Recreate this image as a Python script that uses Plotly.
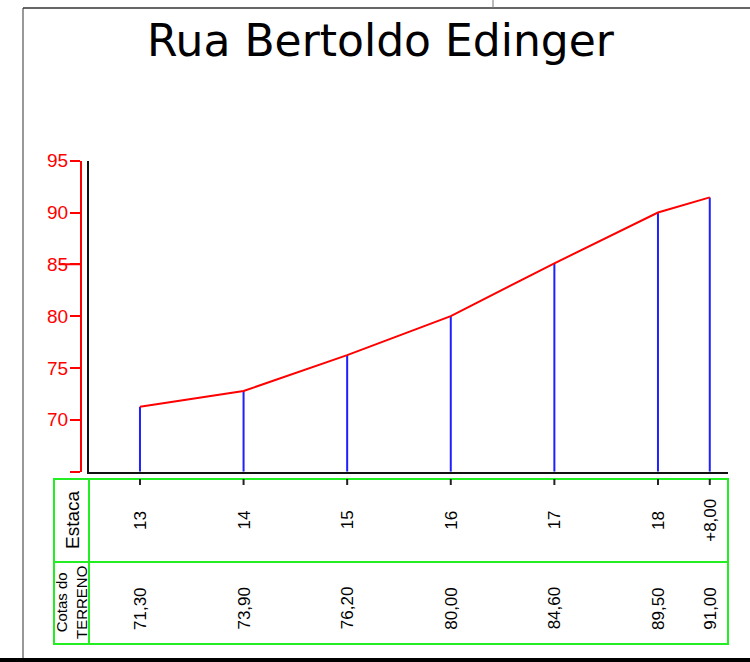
import plotly.graph_objects as go

# ---- data ----
title_text = "Rua Bertoldo Edinger"
stations = [13, 14, 15, 16, 17, 18, 18.5]
station_labels = ["13", "14", "15", "16", "17", "18", "+8,00"]
elev_plot = [71.27, 72.78, 76.25, 80.0, 85.1, 90.0, 91.46]
cota_labels = ["71,30", "73,90", "76,20", "80,00", "84,60", "89,50", "91,00"]
y_ticks = [65, 70, 75, 80, 85, 90, 95]
y_tick_labels = ["", "70", "75", "80", "85", "90", "95"]
row_headers = ["Estaca", "Cotas do<br>TERRENO"]

W, H = 750, 662
def px(x): return x / W
def py(y): return 1 - y / H

fig = go.Figure()

# blue verticals
vx, vy = [], []
for s, e in zip(stations, elev_plot):
    vx += [s, s, None]
    vy += [y_ticks[0], e, None]
fig.add_trace(go.Scatter(x=vx, y=vy, mode="lines", line=dict(color="#1f1fff", width=2),
                         hoverinfo="skip", showlegend=False))
# red profile
fig.add_trace(go.Scatter(x=stations, y=elev_plot, mode="lines", line=dict(color="#ff0000", width=2),
                         showlegend=False))

shapes = []
GREEN = "#22ee22"
# table
shapes.append(dict(type="rect", xref="paper", yref="paper", x0=px(54), x1=px(728), y0=py(644), y1=py(479),
                   line=dict(color=GREEN, width=2)))
shapes.append(dict(type="line", xref="paper", yref="paper", x0=px(54), x1=px(728), y0=py(562), y1=py(562),
                   line=dict(color=GREEN, width=2)))
shapes.append(dict(type="line", xref="paper", yref="paper", x0=px(89), x1=px(89), y0=py(479), y1=py(644),
                   line=dict(color=GREEN, width=2)))
# small station ticks
for s in stations:
    shapes.append(dict(type="line", xref="x", yref="paper", x0=s, x1=s, y0=py(479), y1=py(485),
                       line=dict(color="#222222", width=2)))
# longer tick at 85
shapes.append(dict(type="line", xref="paper", yref="y", x0=px(60), x1=px(81), y0=85, y1=85,
                   line=dict(color="#ff0000", width=2)))
# frame
shapes.append(dict(type="line", xref="paper", yref="paper", x0=px(23), x1=px(23), y0=py(8), y1=py(659),
                   line=dict(color="#999999", width=2)))
shapes.append(dict(type="line", xref="paper", yref="paper", x0=px(23), x1=1, y0=py(8), y1=py(8),
                   line=dict(color="#333333", width=1.5)))
shapes.append(dict(type="line", xref="paper", yref="paper", x0=px(493), x1=px(493), y0=1, y1=py(8),
                   line=dict(color="#777777", width=1)))
shapes.append(dict(type="rect", xref="paper", yref="paper", x0=0, x1=1, y0=0, y1=py(658),
                   line=dict(width=0), fillcolor="#000000"))

annotations = []
annotations.append(dict(text=title_text, xref="paper", yref="paper", x=px(381), y=py(40),
                        xanchor="center", yanchor="middle", showarrow=False,
                        font=dict(family="DejaVu Sans", size=44, color="#000000")))
# y tick labels
for v, t in zip(y_ticks, y_tick_labels):
    if t:
        annotations.append(dict(text=t, xref="paper", yref="y", x=px(70), y=v, xanchor="right",
                                yanchor="middle", showarrow=False,
                                font=dict(family="Liberation Sans", size=19, color="#ff0000")))
# row headers
annotations.append(dict(text=row_headers[0], xref="paper", yref="paper", x=px(72), y=py(520),
                        xanchor="center", yanchor="middle", textangle=-90, showarrow=False,
                        font=dict(family="Liberation Sans", size=19, color="#000000")))
annotations.append(dict(text=row_headers[1], xref="paper", yref="paper", x=px(71), y=py(603),
                        xanchor="center", yanchor="middle", textangle=-90, showarrow=False,
                        font=dict(family="Liberation Sans", size=15, color="#000000")))
for s, lab, c in zip(stations, station_labels, cota_labels):
    annotations.append(dict(text=lab, xref="x", yref="paper", x=s, y=py(520), textangle=-90,
                            xanchor="center", yanchor="middle",
                            showarrow=False, font=dict(family="Liberation Sans", size=17, color="#000000")))
    annotations.append(dict(text=c, xref="x", yref="paper", x=s, y=py(608), textangle=-90,
                            xanchor="center", yanchor="middle",
                            showarrow=False, font=dict(family="Liberation Sans", size=17, color="#000000")))

fig.update_layout(
    width=W, height=H, margin=dict(l=0, r=0, t=0, b=0),
    paper_bgcolor="white", plot_bgcolor="white",
    xaxis=dict(domain=[px(89), px(728)], range=[12.508, 18.676], showline=True, linecolor="#111111",
               linewidth=2, showgrid=False, zeroline=False, showticklabels=False, ticks=""),
    yaxis=dict(domain=[py(471.7), py(160.7)], range=[65, 95], showline=True, linecolor="#111111",
               linewidth=2, showgrid=False, zeroline=False, showticklabels=False, ticks=""),
    yaxis2=dict(overlaying="y", anchor="free", position=px(81), side="left", range=[65, 95],
                showline=True, linecolor="#ff0000", linewidth=2, ticks="outside", ticklen=10,
                tickwidth=2, tickcolor="#ff0000", tickvals=y_ticks, showticklabels=False,
                showgrid=False, zeroline=False),
    shapes=shapes, annotations=annotations,
)
# dummy trace so yaxis2 renders
fig.add_trace(go.Scatter(x=[None], y=[None], yaxis="y2", showlegend=False, hoverinfo="skip"))

fig.write_html("out.html", config={"displayModeBar": False},
               post_script="document.body.style.margin='0';document.body.style.overflow='hidden';")
